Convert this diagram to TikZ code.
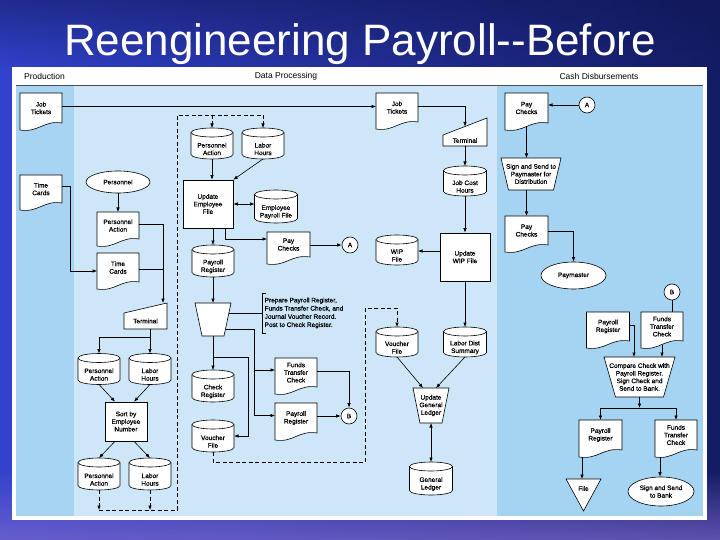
\documentclass[tikz,border=0pt]{standalone}
\usepackage{fontspec}
\setmainfont{Liberation Sans}
\newfontfamily\lblfont[FakeBold=0.6]{Liberation Sans}
\usetikzlibrary{shapes.geometric,arrows.meta,fadings}

\definecolor{prodcol}{RGB}{166,212,242}
\definecolor{dpcol}{RGB}{205,231,248}
\definecolor{cashcol}{RGB}{165,211,242}
\definecolor{bgA}{RGB}{50,66,205}
\definecolor{bgB}{RGB}{20,28,100}
\definecolor{bgC}{RGB}{125,105,205}
\definecolor{bgD}{RGB}{15,22,80}

% document symbol: name, cx, cy, w, h, text   (pixel coords, y downward)
\newcommand\DocShape[6]{%
 \pgfmathsetmacro\rkxa{#2-#4/2}%
 \pgfmathsetmacro\rkxb{#2+#4/2}%
 \pgfmathsetmacro\rkya{-(#3)+#5/2}%
 \pgfmathsetmacro\rkyb{-(#3)-#5/2}%
 \pgfmathsetmacro\rkxm{#2-0.06*#4}%
 \pgfmathsetmacro\rkxn{#2+0.06*#4}%
 \draw[shp] (\rkxa,\rkya) -- (\rkxb,\rkya) -- (\rkxb,\rkyb+7) .. controls (\rkxn,\rkyb+10) and (\rkxm,\rkyb-3) .. (\rkxa,\rkyb) -- cycle;
 \node[anc, minimum width=#4, minimum height=#5] (#1) at (#2,-#3) {};
 \node[lbl] (#1-t) at (#2,-#3+3.5) {#6};
}
% disk (cylinder): name, cx, cy, w, h, text
\newcommand\DiskShape[6]{%
 \pgfmathsetmacro\rkxa{#2-#4/2}%
 \pgfmathsetmacro\rkxb{#2+#4/2}%
 \pgfmathsetmacro\rkya{-(#3)+#5/2-4.5}%
 \pgfmathsetmacro\rkyb{-(#3)-#5/2+4.5}%
 \pgfmathsetmacro\rkr{#4/2}%
 \draw[shp] (\rkxa,\rkya) -- (\rkxa,\rkyb) arc[start angle=180,end angle=360,x radius=\rkr pt,y radius=4.5pt] -- (\rkxb,\rkya) arc[start angle=0,end angle=180,x radius=\rkr pt,y radius=4.5pt] -- cycle;
 \draw[ln] (\rkxa,\rkya) arc[start angle=180,end angle=360,x radius=\rkr pt,y radius=4.5pt];
 \node[anc, minimum width=#4, minimum height=#5] (#1) at (#2,-#3) {};
 \node[lbl] (#1-t) at (#2,-#3-5.5) {#6};
}
% manual operation (trapezoid): name, cx, ytop, ybot, wtop, wbot, text
\newcommand\TrapShape[7]{%
 \pgfmathsetmacro\rkxa{#2-#5/2}%
 \pgfmathsetmacro\rkxb{#2+#5/2}%
 \pgfmathsetmacro\rkxc{#2-#6/2}%
 \pgfmathsetmacro\rkxd{#2+#6/2}%
 \pgfmathsetmacro\rkcy{(#3+#4)/2}%
 \pgfmathsetmacro\rkh{#4-#3}%
 \draw[shp] (\rkxa,-#3) -- (\rkxb,-#3) -- (\rkxd,-#4) -- (\rkxc,-#4) -- cycle;
 \node[anc, minimum width=#5, minimum height=\rkh] (#1) at (#2,-\rkcy) {};
 \node[lbl] (#1-t) at (#2,-\rkcy) {#7};
}
% manual input (terminal): name, xl, xr, ytopleft, ytopright, ybot, text
\newcommand\TermShape[7]{%
 \pgfmathsetmacro\rkcx{(#2+#3)/2}%
 \pgfmathsetmacro\rkcy{(#5+#6)/2}%
 \pgfmathsetmacro\rkty{(#4+#6)/2}%
 \pgfmathsetmacro\rkw{#3-#2}%
 \pgfmathsetmacro\rkh{#6-#5}%
 \draw[shp] (#2,-#6) -- (#2,-#4) -- (#3,-#5) -- (#3,-#6) -- cycle;
 \node[anc, minimum width=\rkw, minimum height=\rkh] (#1) at (\rkcx,-\rkcy) {};
 \node[lbl] (#1-t) at (\rkcx,-\rkty) {#7};
}

\begin{document}
\begin{tikzpicture}[x=1pt,y=1pt,
 shp/.style={draw=black, fill=white, line width=0.6pt},
 anc/.style={inner sep=0pt, outer sep=0pt, draw=none, fill=none},
 lbl/.style={font=\lblfont\fontsize{6.5}{7.6}\selectfont, align=center, inner sep=0pt},
 boxn/.style={shp, lbl},
 ln/.style={line width=0.6pt},
 arr/.style={line width=0.6pt, -{Latex[length=4.5pt,width=3.5pt]}},
 barr/.style={line width=0.6pt, {Latex[length=4.5pt,width=3.5pt]}-{Latex[length=4.5pt,width=3.5pt]}},
 dsh/.style={line width=0.6pt, dash pattern=on 4pt off 2.5pt},
 darr/.style={dsh, -{Latex[length=4.5pt,width=3.5pt]}},
 hdr/.style={font=\fontsize{8.5}{10}\selectfont, inner sep=0pt}
]
\useasboundingbox (0,0) rectangle (720,-540);
% background
\shade[left color=bgA, right color=bgB] (0,0) rectangle (720,-540);
\fill[bgD, path fading=south, fill opacity=0.5] (0,0) rectangle (720,-70);
\fill[bgC, path fading=north, fill opacity=0.7] (0,-470) rectangle (720,-540);

% title
\node[anchor=base, text=white, font=\fontsize{44}{50}\selectfont, inner sep=0pt] (title) at (360,-56) {Reengineering Payroll-{}-Before};

% panel
\fill[white] (12,-67) rectangle (707,-520);
\fill[prodcol] (16,-85) rectangle (74,-516);
\fill[dpcol] (74,-85) rectangle (497,-516);
\fill[cashcol] (497,-85) rectangle (703,-516);
\draw[black!70, line width=0.5pt] (16,-85) -- (703,-85);
\node[hdr, anchor=west] (hprod) at (24,-76) {Production};
\node[hdr] (hdp) at (286,-76) {Data Processing};
\node[hdr] (hcash) at (599,-76) {Cash Disbursements};

% ---------- Production ----------
\DocShape{jt1}{41}{111.5}{42}{37}{Job\\Tickets}
\DocShape{tc1}{41}{192.5}{42}{35}{Time\\Cards}

% ---------- Data Processing (left) ----------
\node[shp, ellipse, lbl, minimum width=64pt, minimum height=22pt] (pers) at (118,-182) {Personnel};
\DocShape{pa1}{118}{229}{42}{34}{Personnel\\Action}
\DocShape{tc2}{118}{271}{42}{36}{Time\\Cards}
\TermShape{term1}{124}{167}{313}{303}{329}{Terminal}
\DiskShape{pa2}{99}{369}{42}{31}{Personnel\\Action}
\DiskShape{lh2}{150}{369}{42}{31}{Labor\\Hours}
\node[boxn, minimum width=42pt, minimum height=39pt] (sort) at (126,-421.5) {Sort by\\Employee\\Number};
\DiskShape{pa3}{99}{474}{42}{32}{Personnel\\Action}
\DiskShape{lh3}{150}{474}{42}{32}{Labor\\Hours}

\DiskShape{pa4}{212}{143.5}{42}{31}{Personnel\\Action}
\DiskShape{lh4}{263}{143.5}{42}{31}{Labor\\Hours}
\node[boxn, minimum width=50pt, minimum height=48pt] (upd) at (208,-204) {Update\\Employee\\File};
\DiskShape{epf}{276}{206.5}{43}{33}{Employee\\Payroll File}
\DocShape{pc1}{288.5}{248}{43}{32}{Pay\\Checks}
\node[shp, circle, lbl, minimum size=16pt] (circA1) at (350,-245) {A};
\DiskShape{prr}{213}{261}{42}{32}{Payroll\\Register}
\TrapShape{trap1}{213}{303}{336}{36}{22}{}
\DiskShape{chk}{213}{386}{42}{32}{Check\\Register}
\DiskShape{vf1}{213}{436}{42}{32}{Voucher\\File}
\DocShape{ftc1}{296}{376}{42}{36}{Funds\\Transfer\\Check}
\DocShape{prg1}{296}{421.5}{42}{37}{Payroll\\Register}
\node[shp, circle, lbl, minimum size=16pt] (circB1) at (349,-416) {B};

% annotation
\coordinate (an0) at (228.9,-313);
\coordinate (an1) at (262,-313);
\draw[ln] (an0) -- (an1);
\draw[ln] (266,-293) -- (262,-293) -- (262,-333) -- (266,-333);
\node[lbl, align=left, anchor=west, font=\lblfont\fontsize{6.5}{8.2}\selectfont] (ann) at (264.5,-313) {Prepare Payroll Register,\\Funds Transfer Check, and\\Journal Voucher Record.\\Post to Check Register.};

% ---------- Data Processing (right) ----------
\DocShape{jt2}{397}{111}{42}{36}{Job\\Tickets}
\TermShape{term2}{443}{487}{135}{118}{146}{Terminal}
\DiskShape{jch}{465}{181}{43}{30}{Job Cost\\Hours}
\node[boxn, minimum width=50pt, minimum height=48pt] (uwip) at (465,-257) {Update\\WIP File};
\DiskShape{wip}{397}{250}{42}{30}{WIP\\File}
\DiskShape{vf2}{397}{342}{42}{30}{Voucher\\File}
\DiskShape{lds}{465}{342}{43}{30}{Labor Dist\\Summary}
\TrapShape{ugl}{431}{388}{423}{36}{22}{Update\\General\\Ledger}
\DiskShape{gl}{431}{478.5}{43}{33}{General\\Ledger}

% ---------- Cash Disbursements ----------
\DocShape{pc2}{526.5}{111.5}{43}{37}{Pay\\Checks}
\node[shp, circle, lbl, minimum size=16pt] (circA2) at (587,-105) {A};
\TrapShape{trap2}{531}{158}{190}{60}{45}{Sign and Send to\\Paymaster for\\Distribution}
\DocShape{pc3}{526.5}{234}{43}{36}{Pay\\Checks}
\node[shp, ellipse, lbl, minimum width=65pt, minimum height=27pt] (paym) at (573.5,-275.5) {Paymaster};
\node[shp, circle, lbl, minimum size=16pt] (circB2) at (672,-292) {B};
\DocShape{prg2}{608}{330}{43}{36}{Payroll\\Register}
\DocShape{ftc2}{662}{330}{42}{36}{Funds\\Transfer\\Check}
\TrapShape{trap3}{639.5}{357}{397}{71}{48}{Compare Check with\\Payroll Register.\\Sign Check and\\Send to Bank.}
\DocShape{prg3}{600.5}{438.5}{43}{37}{Payroll\\Register}
\DocShape{ftc3}{676}{438.5}{42}{37}{Funds\\Transfer\\Check}
\draw[shp] (566,-479) -- (601,-479) -- (583.5,-511) -- cycle;
\node[anc, minimum width=35pt, minimum height=32pt] (file) at (583.5,-495) {};
\node[lbl] (file-t) at (583.5,-488.5) {File};
\node[shp, ellipse, lbl, minimum width=66pt, minimum height=29pt] (ssb) at (661,-491.5) {Sign and Send\\to Bank};

% ================= connectors =================
% Production -> DP
\coordinate (j1) at ([yshift=5pt]jt1.east);
\draw[arr] (j1) -- (j1 -| jt2.west);
\coordinate (t1) at ([yshift=6.5pt]tc1.east);
\coordinate (t1b) at (70,-186);
\draw[arr] (t1) -- (t1b) |- (tc2.west);
\draw[arr] (pers.south) -- (pa1.north);
\coordinate (pa1r) at ([yshift=5pt]pa1.east);
\coordinate (jn1) at (163,-224);
\coordinate (t2r) at ([yshift=2pt]tc2.east);
\draw[ln] (pa1r) -- (jn1);
\draw[ln] (t2r) -- (t2r -| jn1);
\draw[arr] (jn1) -- (jn1 |- term1.north);
\coordinate (tb) at (150,-337);
\draw[ln] (term1.south -| tb) -- (tb);
\draw[arr] (tb) -- (lh2.north);
\draw[arr] (tb) -| (pa2.north);
\draw[arr] (pa2.south) -- ([xshift=-11pt]sort.north);
\draw[arr] (lh2.south) -- ([xshift=8pt]sort.north);
\draw[arr] ([xshift=-11pt]sort.south) -- (pa3.north);
\draw[arr] ([xshift=8pt]sort.south) -- (lh3.north);
% dashed loop back
\coordinate (d1) at (99,-510);
\coordinate (d3) at (177,-510);
\coordinate (d4) at (177,-115);
\draw[darr] (pa3.south) -- (pa3.south |- d1);
\draw[darr] (lh3.south) -- (lh3.south |- d1);
\draw[dsh] (pa3.south |- d1) -- (d3) -- (d4) -- (lh4.north |- d4);
\draw[darr] (pa4.north |- d4) -- (pa4.north);
\draw[darr] (lh4.north |- d4) -- (lh4.north);
% employee file update
\draw[arr] (pa4.south) -- (pa4.south |- upd.north);
\draw[arr] (lh4.south) -- (upd.north east);
\draw[barr] (upd.east) -- (upd.east -| epf.west);
\draw[arr] (upd.south -| prr.north) -- (prr.north);
\coordinate (u2) at (225,-239);
\draw[arr] (u2 |- upd.south) -- (u2) -- (u2 -| pc1.west);
\coordinate (pcA) at ([yshift=3pt]pc1.east);
\draw[arr] (pcA) -- (pcA -| circA1.west);
\draw[arr] (prr.south) -- (trap1.north);
\draw[arr] (trap1.south) -- (chk.north);
% trap1 outputs
\coordinate (r1) at (225.5,-329);
\coordinate (r2) at (254,-329);
\coordinate (r3) at ([yshift=6pt]prg1.west);
\coordinate (r4) at ([yshift=6pt]ftc1.west);
\draw[arr] (r1) -- (r2) |- (r3);
\draw[arr] (r2 |- r4) -- (r4);
\coordinate (v1) at (213,-357);
\coordinate (v2) at (248,-357);
\draw[arr] (v1) -- (v2) |- (vf1.east);
\coordinate (f1) at ([yshift=5pt]ftc1.east);
\draw[arr] (f1) -| (circB1.north);
\draw[arr] ([yshift=5.5pt]prg1.east) -- (circB1.west);
% voucher dashed
\coordinate (w1) at (213,-462);
\coordinate (w2) at (365,-462);
\coordinate (w3) at (365,-308);
\coordinate (w4) at (397,-308);
\draw[darr] (vf1.south) -- (w1) -- (w2) -- (w3) -- (w4) -- (vf2.north);
% job tickets / WIP
\coordinate (j2) at ([yshift=5pt]jt2.east);
\coordinate (tm2) at (465,-126.5);
\draw[arr] (j2) -| (tm2);
\draw[arr] (term2.south) -- (jch.north);
\draw[arr] (jch.south) -- (uwip.north);
\coordinate (uw) at ([yshift=6pt]uwip.west);
\draw[arr] (uw) -- (uw -| wip.east);
\draw[arr] (uwip.south) -- (lds.north);
\draw[arr] (vf2.south) -- ([xshift=-8pt]ugl.north);
\draw[arr] (lds.south) -- ([xshift=5pt]ugl.north);
\draw[barr] (ugl.south) -- (gl.north);
% cash disbursements
\draw[arr] (circA2.west) -- (circA2.west -| pc2.east);
\draw[arr] ([yshift=3.5pt]pc2.south) -- (pc2.south |- trap2.north);
\draw[arr] (pc3.north |- trap2.south) -- (pc3.north);
\coordinate (p3) at ([yshift=3pt]pc3.east);
\draw[arr] (p3) -| (paym.north);
\draw[ln] (circB2.south) -- (circB2.south |- ftc2.north);
\coordinate (p4) at ([yshift=5pt]prg2.east);
\coordinate (p5) at (634,-325);
\draw[arr] (p4) -- (p5) -- (p5 |- trap3.north);
\draw[arr] ([yshift=3.5pt]ftc2.south) -- (ftc2.south |- trap3.north);
\coordinate (q) at (639.5,-408);
\draw[arr] (trap3.south) -- (q);
\draw[arr] (q) -| (prg3.north);
\draw[arr] (q) -| (ftc3.north);
\coordinate (pf) at ([xshift=3pt]prg3.south west);
\draw[arr] (pf) -- (pf |- file.north);
\coordinate (fs) at ([xshift=5pt]ftc3.south west);
\draw[arr] (fs) -- (fs |- ssb.north);
\end{tikzpicture}
\end{document}
